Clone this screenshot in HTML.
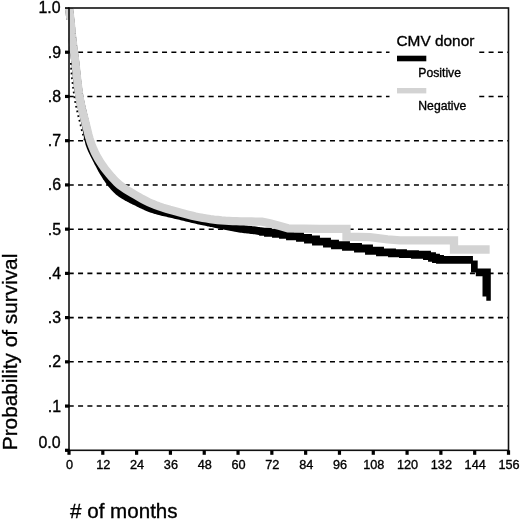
<!DOCTYPE html>
<html><head><meta charset="utf-8"><title>CMV donor survival</title>
<style>
html,body{margin:0;padding:0;background:#fff;}
body{width:520px;height:521px;overflow:hidden;}
svg{display:block;}
.t{font-family:"Liberation Sans",Arial,Helvetica,sans-serif;fill:#000;}
.b{stroke:#000;stroke-width:0.35px;}
.c{stroke:#000;stroke-width:0.35px;}
</style></head><body>
<svg width="520" height="521" viewBox="0 0 520 521">
<rect width="520" height="521" fill="#fff"/>
<line x1="68.74" y1="52.23" x2="508.5" y2="52.23" stroke="#000" stroke-width="1.55" stroke-dasharray="5 4.33"/>
<line x1="68.74" y1="96.46" x2="508.5" y2="96.46" stroke="#000" stroke-width="1.55" stroke-dasharray="5 4.33"/>
<line x1="68.74" y1="140.69" x2="508.5" y2="140.69" stroke="#000" stroke-width="1.55" stroke-dasharray="5 4.33"/>
<line x1="68.74" y1="184.92" x2="508.5" y2="184.92" stroke="#000" stroke-width="1.55" stroke-dasharray="5 4.33"/>
<line x1="68.74" y1="229.15" x2="508.5" y2="229.15" stroke="#000" stroke-width="1.55" stroke-dasharray="5 4.33"/>
<line x1="68.74" y1="273.38" x2="508.5" y2="273.38" stroke="#000" stroke-width="1.55" stroke-dasharray="5 4.33"/>
<line x1="68.74" y1="317.61" x2="508.5" y2="317.61" stroke="#000" stroke-width="1.55" stroke-dasharray="5 4.33"/>
<line x1="68.74" y1="361.84" x2="508.5" y2="361.84" stroke="#000" stroke-width="1.55" stroke-dasharray="5 4.33"/>
<line x1="68.74" y1="406.07" x2="508.5" y2="406.07" stroke="#000" stroke-width="1.55" stroke-dasharray="5 4.33"/>
<rect x="389.5" y="28" width="87.5" height="95" fill="#fff"/>
<defs><clipPath id="cp"><rect x="64" y="8.6" width="450" height="442"/></clipPath></defs>
<g clip-path="url(#cp)">
<polyline points="69.0,8.0 69.2,9.4 69.3,10.8 69.5,12.1 69.7,13.4 69.8,14.7 69.9,16.0 70.1,17.3 70.2,18.5 70.4,19.8 70.5,21.1 70.6,22.4 70.8,23.7 70.9,25.0 71.0,26.4 71.2,27.7 71.3,29.0 71.4,30.3 71.6,31.6 71.7,32.9 71.8,34.2 72.0,35.5 72.1,36.8 72.3,38.2 72.4,39.5 72.6,40.8 72.7,42.1 72.9,43.4 73.0,44.7 73.2,46.0 73.3,47.3 73.5,48.6 73.7,49.9 73.8,51.2 74.0,52.6 74.2,53.9 74.4,55.2 74.6,56.5 74.7,57.8 74.9,59.1 75.1,60.4 75.2,61.7 75.4,63.0 75.5,64.3 75.7,65.6 75.8,66.9 75.9,68.3 76.1,69.6 76.2,70.9 76.3,72.2 76.5,73.5 76.6,74.8 76.7,76.1 76.9,77.4 77.0,78.7 77.2,80.1 77.3,81.4 77.5,82.7 77.6,84.0 77.8,85.3 78.0,86.6 78.1,87.9 78.3,89.2 78.5,90.5 78.7,91.8 78.9,93.1 79.1,94.4 79.3,95.7 79.5,97.0 79.7,98.3 80.0,99.6 80.2,100.9 80.5,102.2 80.7,103.5 81.0,104.8 81.3,106.1 81.6,107.4 81.9,108.7 82.2,109.9 82.5,111.2 82.8,112.5 83.1,113.8 83.4,115.1 83.7,116.4 84.0,117.6 84.3,118.9 84.6,120.2 84.9,121.5 85.2,122.8 85.5,124.1 85.8,125.4 86.0,126.7 86.3,127.9 86.5,129.2 86.7,130.5 86.9,131.8 87.2,133.1 87.4,134.4 87.6,135.7 87.8,137.0 88.1,138.3 88.4,139.6 88.7,140.9 89.0,142.1 89.3,143.4 89.7,144.6 90.2,145.9 90.6,147.1 91.1,148.3 91.6,149.5 92.2,150.7 92.7,151.9 93.3,153.1 93.9,154.3 94.5,155.5 95.1,156.6 95.7,157.8 96.3,159.0 96.9,160.1 97.5,161.3 98.1,162.5 98.8,163.7 99.4,164.8 100.0,166.0 100.6,167.2 101.2,168.3 101.8,169.5 102.5,170.6 103.1,171.8 103.8,172.9 104.5,174.0 105.2,175.1 105.9,176.3 106.6,177.4 107.4,178.4 108.1,179.5 108.9,180.6 109.6,181.7 110.4,182.7 111.2,183.8 112.1,184.8 112.9,185.8 113.8,186.8 114.7,187.8 115.6,188.7 116.5,189.6 117.5,190.5 118.4,191.4 119.5,192.2 120.5,193.0 121.5,193.7 122.6,194.5 123.7,195.2 124.8,195.9 126.0,196.5 127.1,197.2 128.3,197.8 129.5,198.4 130.6,199.0 131.8,199.6 133.0,200.2 134.2,200.8 135.4,201.3 136.6,201.9 137.7,202.5 138.9,203.1 140.1,203.7 141.3,204.3 142.5,204.8 143.7,205.4 144.9,206.0 146.1,206.5 147.3,207.0 148.5,207.5 149.7,208.0 150.9,208.5 152.1,208.9 153.4,209.3 154.6,209.7 155.9,210.1 157.1,210.5 158.4,210.8 159.7,211.2 160.9,211.5 162.2,211.8 163.5,212.1 164.8,212.4 166.1,212.7 167.4,213.0 168.7,213.3 170.0,213.6 171.3,213.9 172.6,214.2 173.8,214.5 175.1,214.8 176.4,215.1 177.7,215.4 179.0,215.7 180.3,216.0 181.6,216.3 182.8,216.6 184.1,216.9 185.4,217.2 186.7,217.6 188.0,217.9 189.2,218.2 190.5,218.5 191.8,218.8 193.1,219.1 194.4,219.4 195.7,219.7 196.9,220.0 198.2,220.3 199.5,220.6 200.8,220.8 202.1,221.1 203.4,221.4 204.7,221.7 206.0,221.9 207.3,222.2 208.5,222.5 209.8,222.7 211.1,223.0 212.4,223.2 213.7,223.5 215.0,223.8 216.3,224.0 217.6,224.3 218.9,224.6 220.2,224.8 221.5,225.1 222.8,225.4 224.1,225.6 225.4,225.9 226.6,226.2 227.9,226.4 229.2,226.7 230.5,226.9 231.8,227.2 233.1,227.4 234.4,227.6 235.7,227.9 237.0,228.1 238.3,228.3 239.6,228.5 240.9,228.7 242.2,228.8 243.5,229.0 244.8,229.2 246.1,229.3 247.5,229.5 248.8,229.6 250.1,229.8 251.4,230.0 252.7,230.1 254.0,230.3 255.3,230.4 256.6,230.6 257.9,230.8 259.2,231.0 260.5,231.1 261.8,231.3 262.0,231.8 268.0,231.8 268.0,232.8 276.0,232.8 276.0,233.9 283.0,233.9 283.0,234.9 290.0,234.9 290.0,236.3 300.0,236.3 300.0,237.9 308.0,237.9 308.0,239.5 316.0,239.5 316.0,241.6 327.0,241.6 327.0,243.6 335.0,243.6 335.0,245.3 346.0,245.3 346.0,246.9 358.0,246.9 358.0,248.5 369.0,248.5 369.0,250.7 380.0,250.7 380.0,252.4 392.0,252.4 392.0,253.3 403.0,253.3 403.0,254.1 415.0,254.1 415.0,254.7 427.0,254.7 427.0,256.1 432.0,256.1 432.0,257.7 436.0,257.7 436.0,259.0 440.0,259.0 440.0,259.9 469.0,259.9" fill="none" stroke="#000" stroke-width="7.9" stroke-linejoin="miter" stroke-linecap="square"/>
<path d="M471 260.4H477.7V268.6H490.8V300.8H486.3V296.5H482.5V276.3H475.8V272.5H471Z" fill="#000"/>
<polyline points="69.0,8.0 69.5,11.9 70.0,15.6 70.4,19.3 70.8,23.0 71.2,26.7 71.6,30.5 71.9,34.2 72.3,38.0 72.8,41.7 73.2,45.5 73.7,49.2 74.2,52.9 74.7,56.7 75.2,60.4 75.6,64.1 76.0,67.9 76.4,71.6 76.8,75.4 77.2,79.1 77.6,82.9 78.1,86.6 78.6,90.4 79.1,94.1 79.7,97.8 80.4,101.5 81.2,105.2 82.0,108.9 82.9,112.5 83.8,116.2 84.8,119.8 85.7,123.5 86.6,127.2 87.5,130.8 88.4,134.5 89.4,138.1 90.5,141.7 91.8,145.2 93.2,148.7 94.7,152.2 96.4,155.5 98.2,158.8 100.2,162.0 102.3,165.1 104.5,168.2 106.8,171.2 109.2,174.1 111.6,176.9 114.2,179.7 116.8,182.4 119.6,184.9 122.6,187.1 125.7,189.2 128.9,191.2 132.2,193.1 135.4,195.0 138.7,196.9 142.0,198.8 145.3,200.5 148.7,202.2 152.1,203.7 155.6,205.1 159.1,206.4 162.7,207.6 166.3,208.7 169.9,209.8 173.6,210.8 177.2,211.8 180.8,212.8 184.5,213.8 188.1,214.7 191.8,215.6 195.5,216.5 199.1,217.2 202.8,217.9 206.6,218.5 210.3,219.1 214.0,219.6 217.8,220.0 221.5,220.4 225.3,220.7 229.0,220.9 232.8,221.1 236.6,221.2 240.3,221.3 244.1,221.4 247.9,221.5 251.6,221.5 255.3,221.6 259.0,221.7 262.0,221.7 270.0,223.4 280.0,226.0 288.0,228.3 320.0,228.9 346.5,228.9 346.5,236.7 370.0,237.2 387.5,239.3 400.0,240.3 454.0,240.3 454.0,249.5 485.5,249.5" fill="none" stroke="#d3d3d3" stroke-width="8.3" stroke-linejoin="miter" stroke-linecap="square"/>
<polyline points="70.8,63.0 71.0,67.1 71.3,71.2 71.6,75.3 72.0,79.3 72.5,83.4 73.0,87.4 73.5,91.5 74.1,95.5 74.7,99.5 75.4,103.5 76.3,107.5 77.2,111.5 78.1,115.5 79.1,119.5 80.1,123.4 81.0,127.4 82.0,131.4 83.1,135.3 84.4,139.2 85.6,142.0" fill="none" stroke="#000" stroke-width="1.6" stroke-dasharray="1.8 3"/>
</g>
<rect x="62" y="20" width="6.3" height="60" fill="#fff"/>
<rect x="69.0" y="8.0" width="439.5" height="442.3" fill="none" stroke="#111" stroke-width="1.6"/>
<rect x="65" y="7.20" width="4.5" height="1.6" fill="#000"/>
<rect x="65" y="50.63" width="4.5" height="3.2" fill="#000"/>
<rect x="65" y="94.86" width="4.5" height="3.2" fill="#000"/>
<rect x="65" y="139.09" width="4.5" height="3.2" fill="#000"/>
<rect x="65" y="183.32" width="4.5" height="3.2" fill="#000"/>
<rect x="65" y="227.55" width="4.5" height="3.2" fill="#000"/>
<rect x="65" y="271.78" width="4.5" height="3.2" fill="#000"/>
<rect x="65" y="316.01" width="4.5" height="3.2" fill="#000"/>
<rect x="65" y="360.24" width="4.5" height="3.2" fill="#000"/>
<rect x="65" y="404.47" width="4.5" height="3.2" fill="#000"/>
<rect x="65" y="448.70" width="4.5" height="3.2" fill="#000"/>
<rect x="67.40" y="450.3" width="3.2" height="4.5" fill="#000"/>
<rect x="101.21" y="450.3" width="3.2" height="4.5" fill="#000"/>
<rect x="135.02" y="450.3" width="3.2" height="4.5" fill="#000"/>
<rect x="168.82" y="450.3" width="3.2" height="4.5" fill="#000"/>
<rect x="202.63" y="450.3" width="3.2" height="4.5" fill="#000"/>
<rect x="236.44" y="450.3" width="3.2" height="4.5" fill="#000"/>
<rect x="270.25" y="450.3" width="3.2" height="4.5" fill="#000"/>
<rect x="304.05" y="450.3" width="3.2" height="4.5" fill="#000"/>
<rect x="337.86" y="450.3" width="3.2" height="4.5" fill="#000"/>
<rect x="371.67" y="450.3" width="3.2" height="4.5" fill="#000"/>
<rect x="405.48" y="450.3" width="3.2" height="4.5" fill="#000"/>
<rect x="439.28" y="450.3" width="3.2" height="4.5" fill="#000"/>
<rect x="473.09" y="450.3" width="3.2" height="4.5" fill="#000"/>
<rect x="506.90" y="450.3" width="3.2" height="4.5" fill="#000"/>
<text x="60.5" y="13.1" text-anchor="end" font-size="15.9" class="t b">1.0</text>
<text x="61" y="57.6" text-anchor="end" font-size="15.9" class="t b">.9</text>
<text x="61" y="101.9" text-anchor="end" font-size="15.9" class="t b">.8</text>
<text x="61" y="146.1" text-anchor="end" font-size="15.9" class="t b">.7</text>
<text x="61" y="190.3" text-anchor="end" font-size="15.9" class="t b">.6</text>
<text x="61" y="234.6" text-anchor="end" font-size="15.9" class="t b">.5</text>
<text x="61" y="278.8" text-anchor="end" font-size="15.9" class="t b">.4</text>
<text x="61" y="323.0" text-anchor="end" font-size="15.9" class="t b">.3</text>
<text x="61" y="367.2" text-anchor="end" font-size="15.9" class="t b">.2</text>
<text x="61" y="411.5" text-anchor="end" font-size="15.9" class="t b">.1</text>
<text x="60.5" y="447.6" text-anchor="end" font-size="15.9" class="t b">0.0</text>
<text x="69.5" y="469.3" text-anchor="middle" font-size="12.7" class="t c">0</text>
<text x="103.3" y="469.3" text-anchor="middle" font-size="12.7" class="t c">12</text>
<text x="137.1" y="469.3" text-anchor="middle" font-size="12.7" class="t c">24</text>
<text x="170.9" y="469.3" text-anchor="middle" font-size="12.7" class="t c">36</text>
<text x="204.7" y="469.3" text-anchor="middle" font-size="12.7" class="t c">48</text>
<text x="238.5" y="469.3" text-anchor="middle" font-size="12.7" class="t c">60</text>
<text x="272.3" y="469.3" text-anchor="middle" font-size="12.7" class="t c">72</text>
<text x="306.2" y="469.3" text-anchor="middle" font-size="12.7" class="t c">84</text>
<text x="340.0" y="469.3" text-anchor="middle" font-size="12.7" class="t c">96</text>
<text x="373.8" y="469.3" text-anchor="middle" font-size="12.7" class="t c">108</text>
<text x="407.6" y="469.3" text-anchor="middle" font-size="12.7" class="t c">120</text>
<text x="441.4" y="469.3" text-anchor="middle" font-size="12.7" class="t c">132</text>
<text x="475.2" y="469.3" text-anchor="middle" font-size="12.7" class="t c">144</text>
<text x="509.0" y="469.3" text-anchor="middle" font-size="12.7" class="t c">156</text>
<text x="70" y="518.3" font-size="20.6" class="t b">#&#160;of&#160;months</text>
<text transform="translate(17.1,450.2) rotate(-90)" font-size="20.8" class="t b">Probability of survival</text>
<text x="396.5" y="45.8" font-size="15.4" class="t c">CMV donor</text>
<rect x="397" y="55.7" width="29.3" height="5.6" fill="#000"/>
<text x="418.3" y="76.5" font-size="12.2" class="t c">Positive</text>
<rect x="397" y="88" width="29.3" height="5.4" fill="#d3d3d3"/>
<text x="418.3" y="109.6" font-size="12.2" class="t c">Negative</text>
</svg>
</body></html>
